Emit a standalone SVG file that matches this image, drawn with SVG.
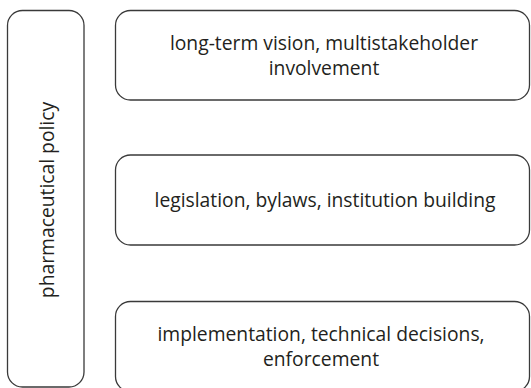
<svg xmlns="http://www.w3.org/2000/svg" width="531" height="388" viewBox="0 0 531 388">
<style>
.box{fill:#fff;stroke:#3a3a3a;stroke-width:1.3}
.t{font-family:"Open Sans","Liberation Sans",sans-serif;font-size:19.3px;fill:#231f20;text-anchor:middle}
</style>
<rect width="531" height="388" fill="#fff"/>
<g id="policy">
<rect class="box" x="7.5" y="10.5" width="76.5" height="376.5" rx="15" ry="15"/>
<text class="t" transform="translate(54,200) rotate(-90)">pharmaceutical policy</text>
</g>
<g id="vision">
<rect class="box" x="115.5" y="10.5" width="414" height="89.5" rx="15" ry="15"/>
<text class="t" x="324" y="50">long-term vision, multistakeholder</text>
<text class="t" x="324" y="75">involvement</text>
</g>
<g id="legislation">
<rect class="box" x="115.5" y="155" width="414" height="90" rx="15" ry="15"/>
<text class="t" x="325" y="206.5">legislation, bylaws, institution building</text>
</g>
<g id="implementation">
<rect class="box" x="115.5" y="301.5" width="414" height="90" rx="15" ry="15"/>
<text class="t" x="321" y="341">implementation, technical decisions,</text>
<text class="t" x="321" y="366">enforcement</text>
</g>
<g id="connectors"></g>
</svg>
